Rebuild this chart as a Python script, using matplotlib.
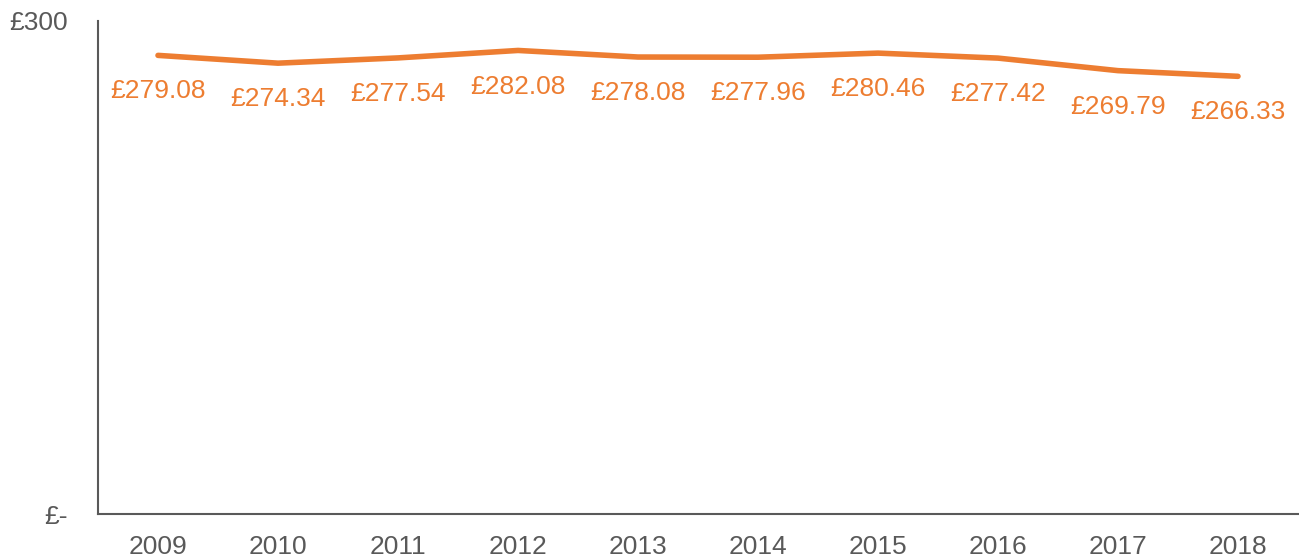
import matplotlib.pyplot as plt

years = ['2009', '2010', '2011', '2012', '2013', '2014', '2015', '2016', '2017', '2018']
values = [279.08, 274.34, 277.54, 282.08, 278.08, 277.96, 280.46, 277.42, 269.79, 266.33]

plt.rcParams['font.family'] = ['Liberation Sans', 'DejaVu Sans']
orange = '#ED7D31'
grey = '#595959'

fig = plt.figure(figsize=(12.99, 5.59), dpi=100)
ax = fig.add_axes([98 / 1299, 45 / 559, 1200 / 1299, 493 / 559])

x = range(len(years))
ax.plot(x, values, color=orange, linewidth=4, solid_capstyle='round')
for i, v in zip(x, values):
    ax.annotate('£%.2f' % v, (i, v), xytext=(0, -26), textcoords='offset points',
                ha='center', va='center', color=orange, fontsize=19)

ax.set_xlim(-0.5, len(years) - 0.5)
ax.set_ylim(0, 300)
ax.set_xticks(list(x))
ax.set_xticklabels(years)
ax.set_yticks([0, 300])
ax.set_yticklabels(['£-', '£300'])
ax.tick_params(length=0, labelsize=19, labelcolor=grey)
ax.tick_params(axis='x', pad=15)
ax.tick_params(axis='y', pad=22)

for s in ['top', 'right']:
    ax.spines[s].set_visible(False)
for s in ['left', 'bottom']:
    ax.spines[s].set_color(grey)
    ax.spines[s].set_linewidth(1.5)

fig.savefig('out.png', dpi=100)
